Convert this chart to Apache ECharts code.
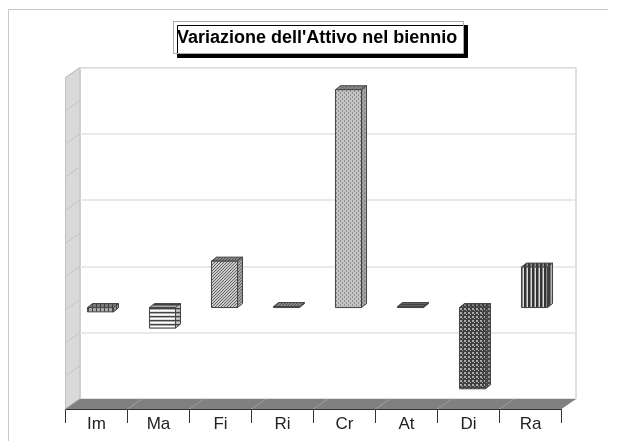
<!DOCTYPE html>
<html>
<head>
<meta charset="utf-8">
<style>
html, body { margin: 0; padding: 0; background: #fff; }
#main { width: 623px; height: 441px; }
</style>
<script src="https://cdn.jsdelivr.net/npm/echarts@6/dist/echarts.min.js"></script>
</head>
<body>
<div id="main"></div>
<script>
var categories = ['Im', 'Ma', 'Fi', 'Ri', 'Cr', 'At', 'Di', 'Ra'];
var values = [-0.13, -0.62, 1.4, 0.03, 6.57, 0.03, -2.45, 1.22];
var patterns = ['vert', 'horiz', 'diag', 'diag', 'weave', 'fineh', 'check', 'wide'];
var wallTicks = [-3, -2, -1, 0, 1, 2, 3, 4, 5, 6, 7];

// scatola 3D: piano frontale e piano di fondo
var front = { left: 65.5, top: 77.5, width: 496, height: 331.5 };
var depthX = 14.5, depthY = 10;

// retini delle barre, disegnati su piccoli canvas
function tile(w, h, paint) {
    var c = document.createElement('canvas');
    c.width = w;
    c.height = h;
    var ctx = c.getContext('2d');
    ctx.fillStyle = '#fff';
    ctx.fillRect(0, 0, w, h);
    paint(ctx);
    return { image: c, repeat: 'repeat' };
}
var fills = {
    vert: tile(4, 4, function(g) { g.fillStyle = '#aaa'; g.fillRect(0, 0, 4, 4); g.fillStyle = '#444'; g.fillRect(0, 0, 1, 4); }),
    horiz: tile(4, 4, function(g) { g.fillStyle = '#444'; g.fillRect(0, 0, 4, 1); g.fillStyle = '#aaa'; g.fillRect(0, 1, 4, 1); g.fillStyle = '#ddd'; g.fillRect(0, 3, 4, 1); }),
    diag: tile(3, 3, function(g) {
        g.fillStyle = '#c8c8c8'; g.fillRect(0, 0, 3, 3);
        g.fillStyle = '#666';
        g.fillRect(2, 0, 1, 1); g.fillRect(1, 1, 1, 1); g.fillRect(0, 2, 1, 1);
    }),
    weave: tile(4, 4, function(g) {
        g.fillStyle = '#c4c4c4'; g.fillRect(0, 0, 4, 4);
        g.fillStyle = '#909090';
        g.fillRect(0, 0, 1, 2); g.fillRect(2, 2, 1, 2);
    }),
    fineh: tile(2, 2, function(g) { g.fillStyle = '#444'; g.fillRect(0, 0, 2, 1); g.fillStyle = '#888'; g.fillRect(0, 1, 2, 1); }),
    check: tile(4, 4, function(g) {
        g.fillStyle = '#404040'; g.fillRect(0, 0, 4, 4);
        g.fillStyle = '#aaa';
        g.fillRect(0, 0, 2, 2); g.fillRect(2, 2, 1, 1);
    }),
    wide: tile(4, 4, function(g) { g.fillStyle = '#333'; g.fillRect(0, 0, 2, 4); g.fillStyle = '#888'; g.fillRect(2, 0, 1, 4); g.fillStyle = '#ddd'; g.fillRect(3, 0, 1, 4); })
};

function poly(points, style) {
    return { type: 'polygon', shape: { points: points }, style: style };
}

// pareti laterale e pavimento, con le tacche sul fianco
function renderSide(params, api) {
    var p = api.coord([0, api.value(0)]);
    var x = front.left;
    return {
        type: 'line',
        shape: { x1: x, y1: p[1], x2: x + depthX, y2: p[1] - depthY },
        style: { stroke: '#c4c4c4', lineWidth: 1 }
    };
}

function renderFloor(params, api) {
    var slot = front.width / categories.length;
    var x = front.left + slot * api.value(0);
    var y = front.top + front.height;
    return {
        type: 'group',
        children: [
            poly([[x, y], [x + slot, y], [x + slot + depthX, y - depthY], [x + depthX, y - depthY]],
                { fill: '#808080' }),
            { type: 'line', shape: { x1: x, y1: y, x2: x + depthX, y2: y - depthY }, style: { stroke: '#9a9a9a', lineWidth: 1 } }
        ]
    };
}

function renderBar(params, api) {
    var base = api.coord([api.value(0), 0]);
    var tip = api.coord([api.value(0), api.value(1)]);
    var w = api.size([1, 0])[0] * 0.42;
    var dx = 5, dy = 4;
    var x0 = base[0] + 4 - w / 2, x1 = x0 + w;
    var yb = base[1] - 2, yt = tip[1] - 2;
    var top = Math.min(yb, yt), bottom = Math.max(yb, yt);
    var fill = fills[patterns[params.dataIndex]];
    var edge = '#444';
    var topFace = [[x0, top], [x1, top], [x1 + dx, top - dy], [x0 + dx, top - dy]];
    var sideFace = [[x1, top], [x1 + dx, top - dy], [x1 + dx, bottom - dy], [x1, bottom]];
    return {
        type: 'group',
        children: [
            // retino piu' una velatura grigia sulle facce in ombra
            poly(topFace, { fill: fill }),
            poly(topFace, { fill: 'rgba(60,60,60,0.45)', stroke: edge, lineWidth: 1 }),
            poly(sideFace, { fill: fill }),
            poly(sideFace, { fill: 'rgba(90,90,90,0.3)', stroke: edge, lineWidth: 1 }),
            { type: 'rect', shape: { x: x0, y: top, width: w, height: bottom - top },
                style: { fill: fill, stroke: edge, lineWidth: 1 } }
        ]
    };
}

var myChart = echarts.init(document.getElementById('main'));
var option = {
    animation: false,
    backgroundColor: '#fff',
    textStyle: { fontFamily: 'Liberation Sans' },
    title: {
        text: "Variazione dell'Attivo nel biennio",
        left: 173,
        top: 21,
        padding: [8, 6, 7, 4],
        backgroundColor: '#fff',
        borderColor: '#aaa',
        borderWidth: 1,
        shadowColor: '#000',
        shadowOffsetX: 4,
        shadowOffsetY: 4,
        shadowBlur: 0,
        textStyle: { fontFamily: 'Liberation Sans', fontSize: 18, fontWeight: 'bold', color: '#000' }
    },
    graphic: [
        // cornice esterna
        { type: 'polyline', silent: true, z: -1, shape: { points: [[8.5, 441], [8.5, 9.5], [608, 9.5]] },
            style: { fill: null, stroke: '#c8c8c8', lineWidth: 1 } },
        // fianco sinistro
        { type: 'polygon', silent: true, z: 0, shape: { points: [
                [front.left, front.top],
                [front.left + depthX, front.top - depthY],
                [front.left + depthX, front.top + front.height - depthY],
                [front.left, front.top + front.height]
            ] },
            style: { fill: '#d9d9d9', stroke: '#c0c0c0', lineWidth: 1 } }
    ],
    grid: [
        { left: front.left, top: front.top, width: front.width, height: front.height },
        { left: front.left + depthX, top: front.top - depthY, width: front.width, height: front.height,
            show: true, backgroundColor: '#fff', borderColor: '#c0c0c0', borderWidth: 1 }
    ],
    xAxis: [
        {
            type: 'category', gridIndex: 0, data: categories,
            axisLine: { show: true, onZero: false, lineStyle: { color: '#333' } },
            axisTick: { show: true, length: 14, alignWithLabel: false, lineStyle: { color: '#333' } },
            axisLabel: { color: '#222', fontSize: 17, margin: 7, interval: 0 }
        },
        { type: 'category', gridIndex: 1, data: categories, show: false }
    ],
    yAxis: [
        { type: 'value', gridIndex: 0, min: -3, max: 7, interval: 1, show: false, splitLine: { show: false } },
        {
            type: 'value', gridIndex: 1, min: -3, max: 7, interval: 2,
            axisLine: { show: false }, axisTick: { show: false }, axisLabel: { show: false },
            splitLine: { show: true, lineStyle: { color: '#e2e2e2', width: 1.5 } }
        }
    ],
    series: [
        {
            type: 'custom', xAxisIndex: 0, yAxisIndex: 0, z: 1, silent: true, clip: false,
            renderItem: renderSide, data: wallTicks.map(function(v) { return [v]; })
        },
        {
            type: 'custom', xAxisIndex: 0, yAxisIndex: 0, z: 1, silent: true, clip: false,
            renderItem: renderFloor, data: categories.map(function(c, i) { return [i]; })
        },
        {
            type: 'custom', xAxisIndex: 0, yAxisIndex: 0, z: 3, clip: false,
            renderItem: renderBar,
            data: values.map(function(v, i) { return [i, v]; })
        }
    ]
};
myChart.setOption(option);
</script>
</body>
</html>
